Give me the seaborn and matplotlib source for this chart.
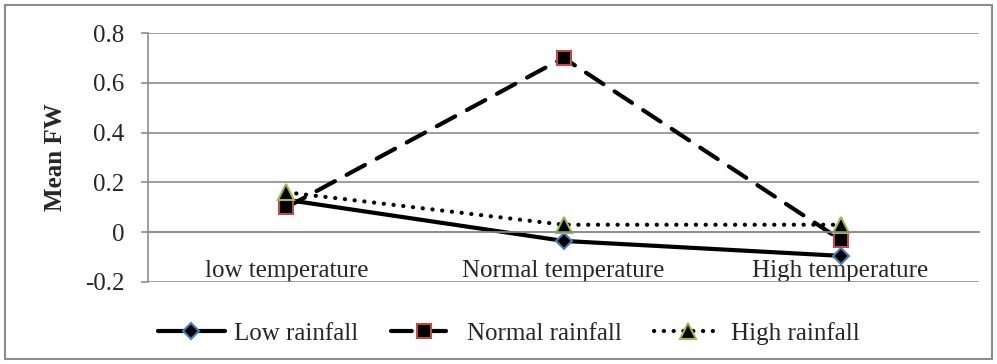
import matplotlib
matplotlib.use("Agg")
import matplotlib.pyplot as plt
import seaborn as sns
import pandas as pd
from matplotlib.patches import Rectangle

categories = ["low temperature", "Normal temperature", "High temperature"]
low_rainfall = [0.13, -0.035, -0.095]
normal_rainfall = [0.10, 0.70, -0.03]
high_rainfall = [0.16, 0.03, 0.03]
series_names = ["Low rainfall", "Normal rainfall", "High rainfall"]
y_ticks = [-0.2, 0, 0.2, 0.4, 0.6, 0.8]
y_tick_labels = ["-0.2", "0", "0.2", "0.4", "0.6", "0.8"]

sns.set_theme(style="white")
plt.rcParams["font.family"] = ["Liberation Serif", "DejaVu Serif"]

FS = 18
fig = plt.figure(figsize=(9.97, 3.64), dpi=100)
ax = fig.add_axes([0.1484, 0.2253, 0.8336, 0.684])

xpos = list(range(len(categories)))
styles = [
    dict(values=low_rainfall, marker="D", ms=8.5, mec="#4a7ebb", dashes=None),
    dict(values=normal_rainfall, marker="s", ms=10, mec="#be4b48", dashes=(5, 3.2)),
    dict(values=high_rainfall, marker="^", ms=11, mec="#98b954", dashes=(0.05, 2.3)),
]
for name, st in zip(series_names, styles):
    df = pd.DataFrame({"x": xpos, "y": st["values"]})
    sns.lineplot(data=df, x="x", y="y", ax=ax, color="black", linewidth=3.0,
                 marker=st["marker"], markersize=st["ms"], markerfacecolor="black",
                 markeredgecolor=st["mec"], markeredgewidth=1.5, label=name)
    l = ax.lines[-1]
    if st["dashes"] is not None:
        l.set_dashes(st["dashes"])
        l.set_dash_capstyle("round")

ax.set_xlim(-0.5, 2.5)
ax.set_ylim(-0.2, 0.8)
ax.set_yticks(y_ticks)
ax.set_yticklabels(y_tick_labels, fontsize=FS)
ax.yaxis.grid(True, color="#8c8c8c", linewidth=1.2)
ax.set_axisbelow(True)

for s in ["top", "right"]:
    ax.spines[s].set_visible(False)
ax.spines["left"].set_color("#8c8c8c")
ax.spines["left"].set_linewidth(1.2)
ax.spines["bottom"].set_position(("data", 0))
ax.spines["bottom"].set_color("#8c8c8c")
ax.spines["bottom"].set_linewidth(1.2)

ax.set_xticks([-0.5, 0.5, 1.5, 2.5])
ax.set_xticklabels([])
ax.set_xticks(xpos, minor=True)
ax.set_xticklabels(categories, minor=True, fontsize=FS)
ax.tick_params(axis="x", which="major", direction="out", length=5, color="#8c8c8c", width=1.2)
ax.tick_params(axis="x", which="minor", length=0, pad=20)
ax.tick_params(axis="y", direction="out", length=5, color="#8c8c8c", width=1.2, left=True, pad=12)

ax.set_xlabel("")
ax.set_ylabel("Mean FW", fontsize=FS, fontweight="bold", labelpad=13)

if ax.get_legend():
    ax.get_legend().remove()
handles, labels = ax.get_legend_handles_labels()
fig.legend(handles, labels, loc="center", bbox_to_anchor=(0.51, 0.085), ncol=3,
           frameon=False, fontsize=FS, handlelength=2.7, columnspacing=1.3,
           handletextpad=0.35, borderpad=0)

fig.patches.append(Rectangle((0.005, 0.014), 0.99, 0.972, transform=fig.transFigure,
                             fill=False, edgecolor="#8c8c8c", linewidth=1.5))

fig.savefig("out.png", dpi=100)
